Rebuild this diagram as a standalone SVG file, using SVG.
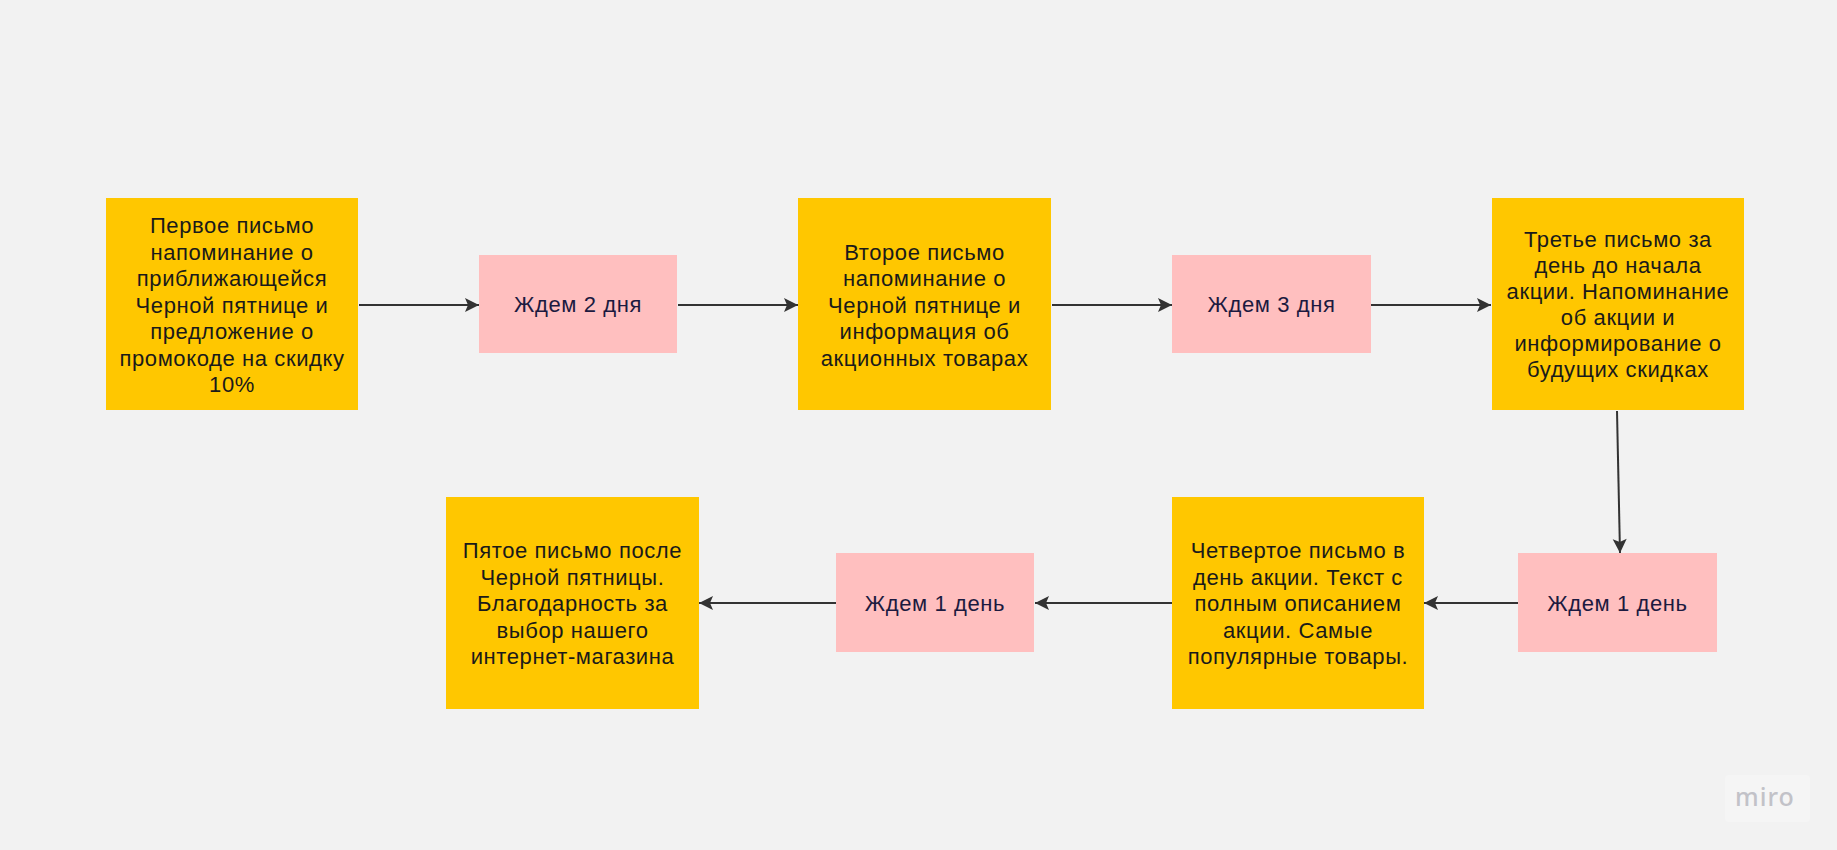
<svg xmlns="http://www.w3.org/2000/svg" width="1837" height="850" viewBox="0 0 1837 850">
<style>
.bg{fill:#f2f2f2}
.mail{fill:#ffc700}
.wait{fill:#ffbfbf}
.t{font-family:"Liberation Sans",Arial,sans-serif;font-size:22px;letter-spacing:0.6px;text-anchor:middle;fill:#1a1a1a}
.tw{fill:#1c1a40}
.c{stroke:#333333;stroke-width:2;fill:none;marker-end:url(#ah)}
.logo{font-family:"Noto Sans","DejaVu Sans",sans-serif;font-size:25px;fill:#c2c2c8;font-weight:500;letter-spacing:1px}
</style>
<defs>
<marker id="ah" markerUnits="userSpaceOnUse" markerWidth="16" markerHeight="16" viewBox="0 0 16 16" refX="15" refY="8" orient="auto">
<path d="M1,1 L15,8 L1,15 L4,8 Z" fill="#333333"/>
</marker>
</defs>
<rect class="bg" x="0" y="0" width="1837" height="850"/>

<g id="connectors">
<line class="c" x1="359" y1="305" x2="479" y2="305"/>
<line class="c" x1="678" y1="305" x2="798" y2="305"/>
<line class="c" x1="1052" y1="305" x2="1172" y2="305"/>
<line class="c" x1="1371" y1="305" x2="1491" y2="305"/>
<line class="c" x1="1617" y1="411" x2="1620" y2="553"/>
<line class="c" x1="1518" y1="603" x2="1424" y2="603"/>
<line class="c" x1="1172" y1="603" x2="1035" y2="603"/>
<line class="c" x1="836" y1="603" x2="699" y2="603"/>
</g>

<g id="node1">
<rect class="mail" x="106" y="198" width="252" height="212"/>
<text class="t" x="232" y="233">Первое письмо</text>
<text class="t" x="232" y="259.5">напоминание о</text>
<text class="t" x="232" y="286">приближающейся</text>
<text class="t" x="232" y="312.5">Черной пятнице и</text>
<text class="t" x="232" y="339">предложение о</text>
<text class="t" x="232" y="365.5">промокоде на скидку</text>
<text class="t" x="232" y="392">10%</text>
</g>

<g id="wait1">
<rect class="wait" x="479" y="255" width="198" height="98"/>
<text class="t tw" x="578" y="312">Ждем 2 дня</text>
</g>

<g id="node2">
<rect class="mail" x="798" y="198" width="253" height="212"/>
<text class="t" x="924.5" y="259.5">Второе письмо</text>
<text class="t" x="924.5" y="286">напоминание о</text>
<text class="t" x="924.5" y="312.5">Черной пятнице и</text>
<text class="t" x="924.5" y="339">информация об</text>
<text class="t" x="924.5" y="365.5">акционных товарах</text>
</g>

<g id="wait2">
<rect class="wait" x="1172" y="255" width="199" height="98"/>
<text class="t tw" x="1271.5" y="312">Ждем 3 дня</text>
</g>

<g id="node3">
<rect class="mail" x="1492" y="198" width="252" height="212"/>
<text class="t" x="1618" y="246.5">Третье письмо за</text>
<text class="t" x="1618" y="272.5">день до начала</text>
<text class="t" x="1618" y="298.5">акции. Напоминание</text>
<text class="t" x="1618" y="325">об акции и</text>
<text class="t" x="1618" y="351">информирование о</text>
<text class="t" x="1618" y="377">будущих скидках</text>
</g>

<g id="wait3">
<rect class="wait" x="1518" y="553" width="199" height="99"/>
<text class="t tw" x="1617.5" y="610.5">Ждем 1 день</text>
</g>

<g id="node4">
<rect class="mail" x="1172" y="497" width="252" height="212"/>
<text class="t" x="1298" y="558">Четвертое письмо в</text>
<text class="t" x="1298" y="584.5">день акции. Текст с</text>
<text class="t" x="1298" y="611">полным описанием</text>
<text class="t" x="1298" y="637.5">акции. Самые</text>
<text class="t" x="1298" y="664">популярные товары.</text>
</g>

<g id="wait4">
<rect class="wait" x="836" y="553" width="198" height="99"/>
<text class="t tw" x="935" y="610.5">Ждем 1 день</text>
</g>

<g id="node5">
<rect class="mail" x="446" y="497" width="253" height="212"/>
<text class="t" x="572.5" y="558">Пятое письмо после</text>
<text class="t" x="572.5" y="584.5">Черной пятницы.</text>
<text class="t" x="572.5" y="611">Благодарность за</text>
<text class="t" x="572.5" y="637.5">выбор нашего</text>
<text class="t" x="572.5" y="664">интернет-магазина</text>
</g>

<g id="watermark">
<rect x="1725" y="775" width="85" height="47" rx="4" fill="#f5f5f5"/>
<text class="logo" x="1765" y="806" text-anchor="middle">miro</text>
</g>
</svg>
